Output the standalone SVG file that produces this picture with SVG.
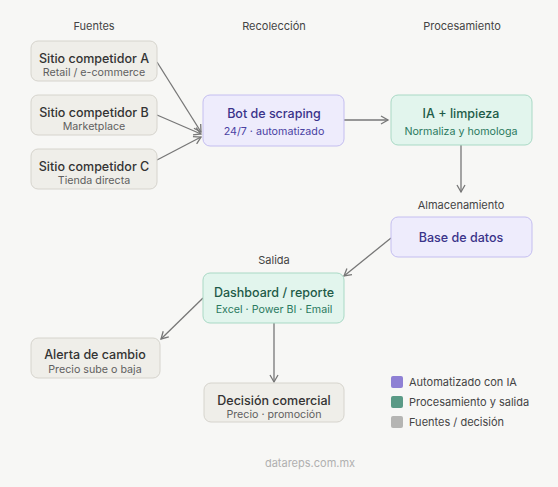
<svg xmlns="http://www.w3.org/2000/svg" width="558" height="487" viewBox="0 0 558 487">
<defs>
<marker id="arr" markerWidth="10" markerHeight="10" refX="8" refY="5" orient="auto" markerUnits="userSpaceOnUse">
<path d="M1,1 L8,5 L1,9" fill="none" stroke="#777" stroke-width="1.3"/>
</marker>
<style>
text{font-family:Inter,"Liberation Sans",sans-serif;text-anchor:middle;dominant-baseline:central}
.col{font-size:11px;fill:#444}
.t{font-size:12.5px;font-weight:500}
.s{font-size:10.7px}
.src rect{fill:#efeee9;stroke:#d6d4cd;stroke-width:1}
.src .t{fill:#333}
.src .s{fill:#5f5f5f}
.auto rect{fill:#eeecfc;stroke:#c4bef0;stroke-width:1}
.auto .t{fill:#3a338a}
.auto .s{fill:#4a42a3}
.proc rect{fill:#e2f5ed;stroke:#a9d9c5;stroke-width:1}
.proc .t{fill:#1e5b48}
.proc .s{fill:#2b7a5f}
.conn line{stroke:#777;stroke-width:1.3;marker-end:url(#arr)}
.leg{font-size:11px;fill:#444;text-anchor:start}
</style>
</defs>
<rect width="558" height="487" fill="#f7f7f5"/>
<text class="col" x="94" y="26">Fuentes</text>
<text class="col" x="274" y="26">Recolección</text>
<text class="col" x="462" y="26">Procesamiento</text>
<text class="col" x="461" y="205">Almacenamiento</text>
<text class="col" x="274" y="260">Salida</text>

<g class="conn">
<line x1="157" y1="62" x2="201" y2="132"/>
<line x1="157" y1="115" x2="201" y2="134"/>
<line x1="157" y1="160" x2="201" y2="137"/>
<line x1="344" y1="120" x2="388" y2="120"/>
<line x1="461" y1="145" x2="461" y2="192"/>
<line x1="391" y1="238" x2="344" y2="276"/>
<line x1="203" y1="298" x2="161" y2="339"/>
<line x1="274" y1="323" x2="274" y2="382"/>
</g>

<g id="srcA" class="src"><rect x="31" y="41" width="126" height="40" rx="7"/><text class="t" x="94" y="58">Sitio competidor A</text><text class="s" x="94" y="72">Retail / e-commerce</text></g>
<g id="srcB" class="src"><rect x="31" y="95" width="126" height="40" rx="7"/><text class="t" x="94" y="112">Sitio competidor B</text><text class="s" x="94" y="126">Marketplace</text></g>
<g id="srcC" class="src"><rect x="31" y="149" width="126" height="40" rx="7"/><text class="t" x="94" y="166">Sitio competidor C</text><text class="s" x="94" y="180">Tienda directa</text></g>
<g id="bot" class="auto"><rect x="203" y="95" width="141" height="51" rx="7"/><text class="t" x="274" y="113">Bot de scraping</text><text class="s" x="274" y="131">24/7 · automatizado</text></g>
<g id="ia" class="proc"><rect x="391" y="95" width="141" height="50" rx="7"/><text class="t" x="461" y="113">IA + limpieza</text><text class="s" x="461" y="131">Normaliza y homologa</text></g>
<g id="db" class="auto"><rect x="391" y="217" width="141" height="40" rx="7"/><text class="t" x="461" y="237">Base de datos</text></g>
<g id="dash" class="proc"><rect x="203" y="273" width="141" height="50" rx="7"/><text class="t" x="274" y="292">Dashboard / reporte</text><text class="s" x="274" y="309">Excel · Power BI · Email</text></g>
<g id="alerta" class="src"><rect x="31" y="338" width="129" height="40" rx="7"/><text class="t" x="95" y="354">Alerta de cambio</text><text class="s" x="95" y="369">Precio sube o baja</text></g>
<g id="decision" class="src"><rect x="204" y="383" width="140" height="39" rx="7"/><text class="t" x="274" y="400">Decisión comercial</text><text class="s" x="274" y="414">Precio · promoción</text></g>

<g id="legend">
<rect x="391" y="376" width="12" height="12" rx="2" fill="#8e80d4"/>
<text class="leg" x="409" y="382">Automatizado con IA</text>
<rect x="391" y="396" width="12" height="12" rx="2" fill="#5a9a86"/>
<text class="leg" x="409" y="402">Procesamiento y salida</text>
<rect x="391" y="416" width="12" height="12" rx="2" fill="#b5b5b3"/>
<text class="leg" x="409" y="422">Fuentes / decisión</text>
</g>
<text x="310" y="463" style="font-size:11px;fill:#b0b0b0">datareps.com.mx</text>
</svg>
